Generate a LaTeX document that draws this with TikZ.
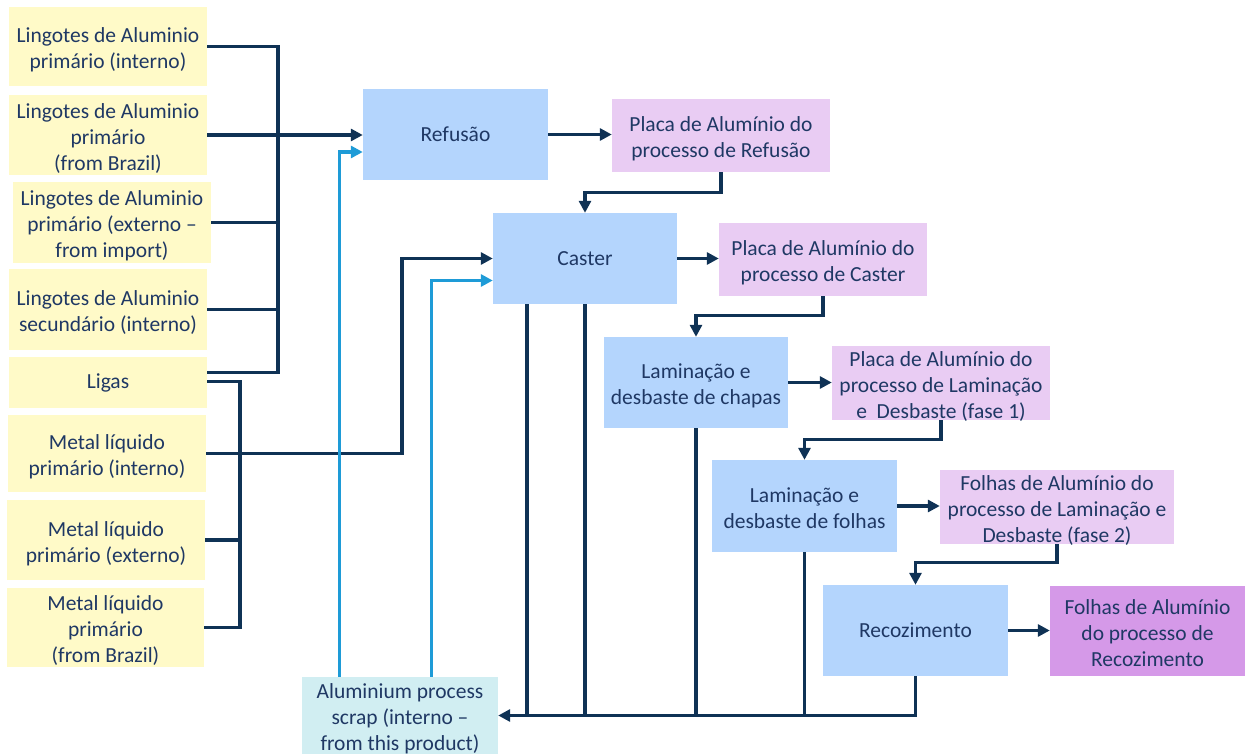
\documentclass[tikz,border=0pt]{standalone}
\usepackage{fontspec}
\setmainfont{Carlito}
\usetikzlibrary{arrows.meta,calc}
\definecolor{txt}{RGB}{31,56,100}
\definecolor{ylw}{RGB}{255,250,200}
\definecolor{blu}{RGB}{180,213,253}
\definecolor{lav}{RGB}{233,204,243}
\definecolor{pur}{RGB}{213,153,232}
\definecolor{cyn}{RGB}{209,238,242}
\definecolor{dk}{RGB}{15,50,85}
\definecolor{lb}{RGB}{30,155,215}
\newcommand\mlines[1]{\raisebox{-9pt}[0pt][0pt]{\begin{tabular}{@{}c@{}}#1\end{tabular}}}
\begin{document}
\begin{tikzpicture}[x=1pt,y=-1pt,
  box/.style={inner sep=0pt,align=center,text=txt,font=\fontsize{21.5}{26}\selectfont},
  src/.style={box,fill=ylw},
  proc/.style={box,fill=blu},
  prod/.style={box,fill=lav},
  dkl/.style={draw=dk,line width=3.3pt},
  lbl/.style={draw=lb,line width=3.3pt},
  arr/.style={-{Triangle[length=12pt,width=12pt]}}]
\useasboundingbox (0,0) rectangle (1245,754);
% sources
\node[src,minimum width=198,minimum height=79] (b1) at (108,46.5) {\mlines{Lingotes de Aluminio\\primário (interno)}};
\node[src,minimum width=198,minimum height=80] (b2) at (108,135) {\mlines{Lingotes de Aluminio\\primário\\(from Brazil)}};
\node[src,minimum width=198,minimum height=81] (b3) at (112,222.5) {\mlines{Lingotes de Aluminio\\primário (externo –\\from import)}};
\node[src,minimum width=198,minimum height=81] (b4) at (108,309.5) {\mlines{Lingotes de Aluminio\\secundário (interno)}};
\node[src,minimum width=198,minimum height=51] (ligas) at (108,382.5) {Ligas};
\node[src,minimum width=198,minimum height=77] (b6) at (107,453.5) {\mlines{Metal líquido\\primário (interno)}};
\node[src,minimum width=198,minimum height=80] (b7) at (106,540) {\mlines{Metal líquido\\primário (externo)}};
\node[src,minimum width=197,minimum height=79] (b8) at (105.5,627.5) {\mlines{Metal líquido\\primário\\(from Brazil)}};
% processes and products
\node[proc,minimum width=185,minimum height=91] (ref) at (455.5,134.5) {Refusão};
\node[prod,minimum width=218,minimum height=73] (pr) at (721,135.5) {\mlines{Placa de Alumínio do\\processo de Refusão}};
\node[proc,minimum width=184,minimum height=91] (caster) at (585,258.5) {Caster};
\node[prod,minimum width=208,minimum height=73] (pc) at (823,259.5) {\mlines{Placa de Alumínio do\\processo de Caster}};
\node[proc,minimum width=184,minimum height=91] (lc) at (696,382.5) {\mlines{Laminação e\\desbaste de chapas}};
\node[prod,minimum width=218,minimum height=74] (pl1) at (941,383) {\mlines{Placa de Alumínio do\\processo de Laminação\\e~~Desbaste (fase 1)}};
\node[proc,minimum width=185,minimum height=92] (lf) at (804.5,506) {\mlines{Laminação e\\desbaste de folhas}};
\node[prod,minimum width=234,minimum height=74] (pl2) at (1057,507) {\mlines{Folhas de Alumínio do\\processo de Laminação e\\Desbaste (fase 2)}};
\node[proc,minimum width=185,minimum height=91] (rec) at (915.5,630.5) {Recozimento};
\node[box,fill=pur,minimum width=195,minimum height=90] (fr) at (1147.5,631) {\mlines{Folhas de Alumínio\\do processo de\\Recozimento}};
\node[box,fill=cyn,minimum width=196,minimum height=77] (scrap) at (400,715.5) {\mlines{Aluminium process\\scrap (interno –\\from this product)}};
% bus coordinates
\coordinate (bx) at (278,0);
\coordinate (by) at (240,0);
\coordinate (cx) at (402,0);
% left bus 1 -> Refusao
\draw[dkl] (b1.east) -| ([yshift=10pt]ligas.east -| bx) -- ([yshift=10pt]ligas.east);
\draw[dkl] (b3.east) -- (b3.east -| bx);
\draw[dkl] (b4.east) -- (b4.east -| bx);
\draw[dkl,arr] (b2.east) -- (b2.east -| ref.west);
% left bus 2
\draw[dkl] ([yshift=1pt]ligas.east) -| (b8.east -| by) -- (b8.east);
\draw[dkl] (b7.east) -- (b7.east -| by);
\draw[dkl,arr] (b6.east) -| (caster.west -| cx) -- (caster.west);
% scrap recycling (light blue)
\draw[lbl,arr] ([xshift=38pt]scrap.north west) |- ([yshift=-17.5pt]ref.west);
\draw[lbl,arr] ([xshift=130pt]scrap.north west) |- ([yshift=-22pt]caster.west);
% main flow
\draw[dkl,arr] (ref.east) -- (ref.east -| pr.west);
\draw[dkl,arr] (pr.south) |- ([yshift=20pt]caster.north) -- (caster.north);
\draw[dkl,arr] (caster.east) -- (caster.east -| pc.west);
\draw[dkl,arr] (pc.south) |- ([yshift=21pt]lc.north) -- (lc.north);
\draw[dkl,arr] (lc.east) -- (lc.east -| pl1.west);
\draw[dkl,arr] (pl1.south) |- ([yshift=20pt]lf.north) -- (lf.north);
\draw[dkl,arr] (lf.east) -- (lf.east -| pl2.west);
\draw[dkl,arr] (pl2.south) |- ([yshift=22pt]rec.north) -- (rec.north);
\draw[dkl,arr] (rec.east) -- (rec.east -| fr.west);
% scrap collection bus
\draw[dkl,arr] (rec.south) |- (scrap.east);
\draw[dkl] ([xshift=-58pt]caster.south) -- ([xshift=-58pt]caster.south |- scrap.east);
\draw[dkl] (caster.south) -- (caster.south |- scrap.east);
\draw[dkl] (lc.south) -- (lc.south |- scrap.east);
\draw[dkl] (lf.south) -- (lf.south |- scrap.east);
\end{tikzpicture}
\end{document}
